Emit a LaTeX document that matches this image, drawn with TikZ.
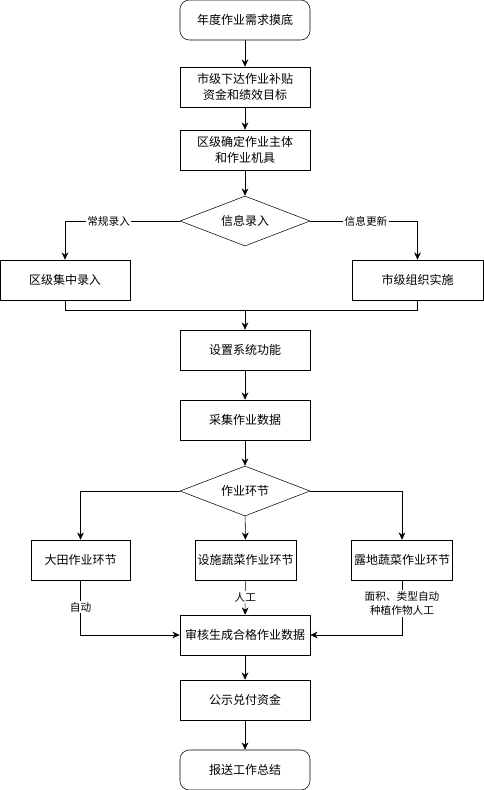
\documentclass[tikz,border=0pt]{standalone}
\usepackage{fontspec}
\setmainfont{Noto Sans CJK SC}
\usetikzlibrary{shapes.geometric,arrows.meta}

\begin{document}
\begin{tikzpicture}[x=0.75pt, y=-0.75pt,
    box/.style={rectangle, draw=black, fill=white, minimum width=97.5pt,
        minimum height=30pt, inner sep=2pt, align=center,
        font=\fontsize{9}{12}\selectfont},
    roundbox/.style={box, rounded corners=7pt},
    decision/.style={diamond, draw=black, fill=white, aspect=2.6, inner sep=0pt,
        minimum width=97.5pt, minimum height=37.5pt, font=\fontsize{9}{12}\selectfont},
    edge/.style={-{Stealth[length=5.5pt, width=5pt]}},
    lbl/.style={fill=white, inner sep=1pt, align=center, font=\fontsize{8}{10.5}\selectfont}
]
    \useasboundingbox (0,0) rectangle (484,790);
    \node[roundbox] (start) at (245,20) {年度作业需求摸底};
    \node[box] (issue) at (245,87) {市级下达作业补贴\\资金和绩效目标};
    \node[box] (assign) at (245,150) {区级确定作业主体\\和作业机具};
    \node[decision] (entry) at (245,221) {信息录入};
    \node[box] (district) at (65,280) {区级集中录入};
    \node[box, minimum width=98.25pt] (city) at (417.5,280) {市级组织实施};
    \coordinate (join) at (245,310);
    \node[box] (setup) at (245,350) {设置系统功能};
    \node[box] (collect) at (245,420) {采集作业数据};
    \node[decision] (stage) at (245,491) {作业环节};
    \node[box, minimum width=74.25pt] (field) at (80.5,560) {大田作业环节};
    \node[box, minimum width=74.25pt] (facility) at (245.5,560) {设施蔬菜作业环节};
    \node[box, minimum width=75pt] (openfield) at (402,560) {露地蔬菜作业环节};
    \node[box] (audit) at (245,635) {审核生成合格作业数据};
    \node[box] (publish) at (245,700) {公示兑付资金};
    \node[roundbox] (report) at (245,770) {报送工作总结};
    \draw[edge] (start) -- (issue);
    \draw[edge] (issue) -- (assign);
    \draw[edge] (assign) -- (entry);
    \draw[edge] (entry.west) -| node[lbl, pos=0.31] {常规录入} (district.north);
    \draw[edge] (entry.east) -| node[lbl, pos=0.26] {信息更新} (city.north);
    \draw (district.south) |- (join);
    \draw (city.south) |- (join);
    \draw[edge] (join) -- (setup);
    \draw[edge] (setup) -- (collect);
    \draw[edge] (collect) -- (stage);
    \draw[edge] (stage.west) -| (field.north);
    \draw[edge] (stage) -- (facility);
    \draw[edge] (stage.east) -| (openfield.north);
    \draw[edge] (field.south) |- node[lbl, pos=0.245] {自动} (audit.west);
    \draw[edge] (facility) -- node[lbl, pos=0.49] {人工} (audit);
    \draw[edge] (openfield.south) |- node[lbl, pos=0.21] {面积、类型自动\\种植作物人工} (audit.east);
    \draw[edge] (audit) -- (publish);
    \draw[edge] (publish) -- (report);
\end{tikzpicture}
\end{document}
